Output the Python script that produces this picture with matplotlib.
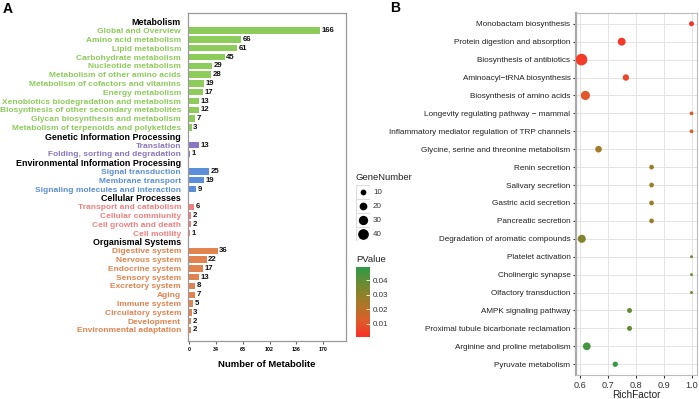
import matplotlib
matplotlib.use('Agg')
import matplotlib.pyplot as plt
import matplotlib.colors as mcolors
import matplotlib.colorbar as mcolorbar
from matplotlib.patches import Rectangle
import numpy as np

plt.rcParams['font.family'] = ['Liberation Sans', 'DejaVu Sans']

# ---- panel A data ----
groups = ['Metabolism', 'Genetic Information Processing',
          'Environmental Information Processing', 'Cellular Processes',
          'Organismal Systems']
group_colors = ['#8DCB5A', '#8A77C2', '#5B8ED8', '#F27E7E', '#E0834F']
pathways = [
    ['Global and Overview', 'Amino acid metabolism', 'Lipid metabolism',
     'Carbohydrate metabolism', 'Nucleotide metabolism',
     'Metabolism of other amino acids', 'Metabolism of cofactors and vitamins',
     'Energy metabolism', 'Xenobiotics biodegradation and metabolism',
     'Biosynthesis of other secondary metabolites',
     'Glycan biosynthesis and metabolism',
     'Metabolism of terpenoids and polyketides'],
    ['Translation', 'Folding, sorting and degradation'],
    ['Signal transduction', 'Membrane transport',
     'Signaling molecules and interaction'],
    ['Transport and catabolism', 'Cellular commiunity',
     'Cell growth and death', 'Cell motility'],
    ['Digestive system', 'Nervous system', 'Endocrine system',
     'Sensory system', 'Excretory system', 'Aging', 'Immune system',
     'Circulatory system', 'Development', 'Environmental adaptation'],
]
counts = [
    [166, 66, 61, 45, 29, 28, 19, 17, 13, 12, 7, 3],
    [13, 1],
    [25, 19, 9],
    [6, 2, 2, 1],
    [36, 22, 17, 13, 8, 7, 5, 3, 2, 2],
]
xticks_a = [0, 34, 68, 102, 136, 170]

# ---- panel B data ----
terms = ['Monobactam biosynthesis', 'Protein digestion and absorption',
         'Biosynthesis of antibiotics', 'Aminoacyl\u2212tRNA biosynthesis',
         'Biosynthesis of amino acids',
         'Longevity regulating pathway \u2212 mammal',
         'Inflammatory mediator regulation of TRP channels',
         'Glycine, serine and threonine metabolism', 'Renin secretion',
         'Salivary secretion', 'Gastric acid secretion',
         'Pancreatic secretion', 'Degradation of aromatic compounds',
         'Platelet activation', 'Cholinergic synapse',
         'Olfactory transduction', 'AMPK signaling pathway',
         'Proximal tubule bicarbonate reclamation',
         'Arginine and proline metabolism', 'Pyruvate metabolism']
rich = [1.0, 0.75, 0.606, 0.765, 0.62, 1.0, 1.0, 0.667, 0.857, 0.857,
        0.857, 0.857, 0.607, 1.0, 1.0, 1.0, 0.778, 0.778, 0.625, 0.727]
genes = [7, 21, 48, 13, 29, 3, 3, 14, 6, 6, 6, 6, 22, 1, 1, 1, 7, 7, 20, 8]
pvals = [0.002, 0.003, 0.004, 0.007, 0.011, 0.012, 0.012, 0.025, 0.027,
         0.027, 0.027, 0.027, 0.032, 0.037, 0.037, 0.037, 0.039, 0.039,
         0.045, 0.048]
size_breaks = [10, 20, 30, 40]
p_ticks = [0.01, 0.02, 0.03, 0.04]

W, H = 699, 399
fig = plt.figure(figsize=(W / 100, H / 100), dpi=100)


def fx(px):
    return px / W


def fy(py):
    return 1 - py / H


# ---------------- Panel A ----------------
axA = fig.add_axes([fx(188), fy(341), fx(346 - 188), fy(13) - fy(341)])
ylabels, ycolors, yheader = [], [], []
row = 0
for g, col, names, vals in zip(groups, group_colors, pathways, counts):
    ylabels.append(g)
    ycolors.append('black')
    yheader.append(True)
    row += 1
    for n, v in zip(names, vals):
        axA.barh(row, v, height=0.72, color=col, left=0)
        axA.text(v + 2, row, str(v), va='center', ha='left',
                 fontsize=5.6, fontweight='bold', color='#111111')
        ylabels.append(n)
        ycolors.append(col)
        yheader.append(False)
        row += 1

axA.set_ylim(36.25, -1.0)
axA.set_xlim(-1.5, 199)
axA.set_yticks(range(len(ylabels)))
axA.set_yticklabels(ylabels, fontweight='bold')
for lab, c, h in zip(axA.get_yticklabels(), ycolors, yheader):
    lab.set_color(c)
    lab.set_fontsize(6.4 if h else 6.0)
axA.tick_params(axis='y', length=0, pad=5)
axA.set_xticks(xticks_a)
axA.set_xticklabels([str(t) for t in xticks_a], fontsize=3.8,
                    fontweight='bold')
axA.tick_params(axis='x', length=2, width=0.8, pad=2, color='#666666')
for s in axA.spines.values():
    s.set_color('#999999')
    s.set_linewidth(0.9)
axA.set_xlabel('Number of Metabolite', fontsize=6.8, fontweight='bold',
               labelpad=6)

fig.text(fx(3), fy(9), 'A', fontsize=10, fontweight='bold', va='center')
fig.text(fx(390), fy(8), 'B', fontsize=10, fontweight='bold', va='center')

# ---------------- Panel B ----------------
cmap = mcolors.LinearSegmentedColormap.from_list(
    'pv', ['#FA3028', '#D9602A', '#A47A28', '#6E8A30', '#2E9A46'])
norm = mcolors.Normalize(vmin=0.001, vmax=0.049)


def gsize(g):
    return 3.1 + 1.4 * np.asarray(g, dtype=float)


axB = fig.add_axes([fx(576), fy(375), fx(697 - 576), fy(13) - fy(375)])
ypos = np.arange(len(terms))
axB.scatter(rich, ypos, s=gsize(genes), c=pvals, cmap=cmap, norm=norm,
            linewidths=0, zorder=3)
axB.set_ylim(19.6, -0.6)
axB.set_xlim(0.5863, 1.0197)
axB.set_yticks(ypos)
axB.set_yticklabels(terms, fontsize=5.9, color='#222222')
axB.set_xticks([0.6, 0.7, 0.8, 0.9, 1.0])
axB.set_xticklabels(['0.6', '0.7', '0.8', '0.9', '1.0'], fontsize=6.6,
                    color='#333333')
axB.tick_params(axis='both', length=2.5, width=0.8, color='#333333', pad=1.5)
axB.grid(True, color='#E4E4E4', linewidth=0.7, zorder=0)
axB.set_axisbelow(True)
for k, s in axB.spines.items():
    s.set_color('#BBBBBB')
    s.set_linewidth(0.8)
axB.spines['left'].set_linewidth(1.6)
axB.spines['left'].set_color('#AAAAAA')
axB.set_xlabel('RichFactor', fontsize=7.2, color='#222222', labelpad=0)

# GeneNumber legend
fig.text(fx(356), fy(178), 'GeneNumber', fontsize=6.8, color='#222222',
         va='center', ha='left')
axL = fig.add_axes([fx(356), fy(241), fx(14), fy(185) - fy(241)])
axL.set_xlim(0, 1)
axL.set_ylim(len(size_breaks), 0)
axL.axis('off')
for i, b in enumerate(size_breaks):
    axL.add_patch(Rectangle((0, i), 1, 1, facecolor='white',
                            edgecolor='#DDDDDD', linewidth=0.8))
    axL.scatter([0.5], [i + 0.5], s=gsize(b), color='black', linewidths=0)
    fig.text(fx(373), fy(185 + 14 * i + 7), str(b), fontsize=5.8,
             color='#333333', va='center', ha='left')

# PValue colorbar
fig.text(fx(356), fy(260), 'PValue', fontsize=6.8, color='#222222',
         va='center', ha='left')
axC = fig.add_axes([fx(356), fy(337), fx(14), fy(267) - fy(337)])
cb = mcolorbar.ColorbarBase(axC, cmap=cmap, norm=norm, ticks=p_ticks)
cb.outline.set_visible(False)
cb.ax.tick_params(length=3, width=0.6, color='white', direction='in',
                  labelsize=5.8, labelcolor='#333333', pad=2)
cb.set_ticklabels(['0.01', '0.02', '0.03', '0.04'])

fig.savefig('out.png', dpi=100)
